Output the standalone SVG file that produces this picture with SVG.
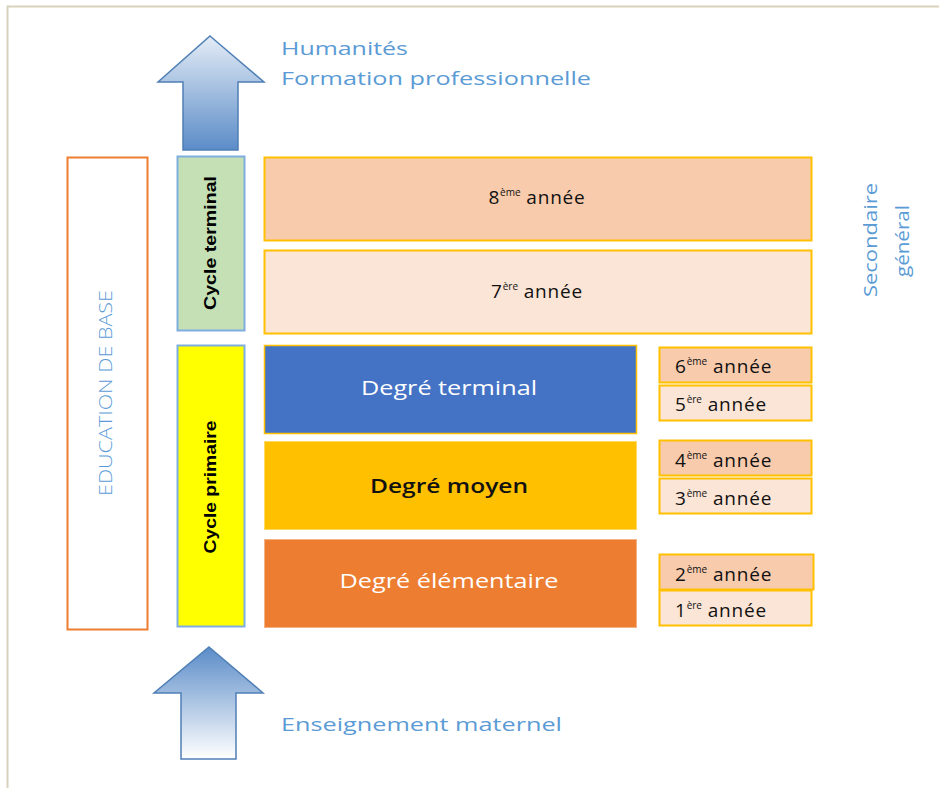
<svg xmlns="http://www.w3.org/2000/svg" width="939" height="788" viewBox="0 0 939 788">
<defs>
<linearGradient id="gUp" x1="0" y1="0" x2="0" y2="1">
<stop offset="0" stop-color="#e4ecf6"/>
<stop offset="1" stop-color="#5b8cc8"/>
</linearGradient>
<linearGradient id="gDown" x1="0" y1="0" x2="0" y2="1">
<stop offset="0" stop-color="#5b8cc8"/>
<stop offset="1" stop-color="#ffffff"/>
</linearGradient>
<style>
.blue{fill:#5b9bd5;font-family:"Open Sans","Noto Sans",sans-serif;font-size:19px}
.lbl{font-family:"Open Sans","Noto Sans",sans-serif;font-size:19px;fill:#111;letter-spacing:0.8px}
.sup{font-size:10px;letter-spacing:0}
.big{font-family:"Open Sans","Noto Sans",sans-serif;font-size:19.5px;text-anchor:middle}
.cyc{font-family:"Liberation Sans Narrow","Liberation Sans",sans-serif;font-size:17px;font-weight:bold;fill:#000;text-anchor:middle}
.yr{stroke:#ffc000;stroke-width:2}
.arrow{stroke:#4f7fb5;stroke-width:1.5}
</style>
</defs>
<rect width="939" height="788" fill="#ffffff"/>
<path d="M7.5 788 V6.5 H939" fill="none" stroke="#d8d2bc" stroke-width="2"/>

<g id="arrow-top">
<polygon class="arrow" fill="url(#gUp)" points="210,36 264,82 238,82 238,150 183,150 183,82 158,82"/>
</g>
<g id="label-top">
<text class="blue" x="281" y="55" textLength="127" lengthAdjust="spacingAndGlyphs">Humanités</text>
<text class="blue" x="281" y="85" textLength="310" lengthAdjust="spacingAndGlyphs">Formation professionnelle</text>
</g>

<g id="education-de-base">
<rect x="67.5" y="157.5" width="80" height="472" fill="#fff" stroke="#ed7d31" stroke-width="2"/>
<text class="blue" transform="translate(112,393) rotate(-90)" text-anchor="middle" font-weight="300" textLength="206" lengthAdjust="spacingAndGlyphs">EDUCATION DE BASE</text>
</g>

<g id="cycle-terminal">
<rect x="177.5" y="156.5" width="67" height="174" fill="#c5e0b4" stroke="#7eaee0" stroke-width="2"/>
<text class="cyc" transform="translate(216,243) rotate(-90)" textLength="134" lengthAdjust="spacingAndGlyphs">Cycle terminal</text>
</g>

<g id="cycle-primaire">
<rect x="177.5" y="345.5" width="67" height="281" fill="#ffff00" stroke="#7eaee0" stroke-width="2"/>
<text class="cyc" transform="translate(216,487) rotate(-90)" textLength="133" lengthAdjust="spacingAndGlyphs">Cycle primaire</text>
</g>

<g id="annee-8">
<rect class="yr" x="264.5" y="157.5" width="547" height="83" fill="#f8cbad"/>
<text class="lbl" x="537" y="204" text-anchor="middle">8<tspan class="sup" dy="-8">ème</tspan><tspan dy="8"> année</tspan></text>
</g>
<g id="annee-7">
<rect class="yr" x="264.5" y="250.5" width="547" height="83" fill="#fbe5d6"/>
<text class="lbl" x="537" y="298" text-anchor="middle">7<tspan class="sup" dy="-8">ère</tspan><tspan dy="8"> année</tspan></text>
</g>

<g id="degre-terminal">
<rect x="264.5" y="345.5" width="372" height="88" fill="#4472c4" stroke="#ffc000" stroke-width="1.5"/>
<text class="big" x="449" y="395" fill="#ffffff" textLength="176" lengthAdjust="spacingAndGlyphs">Degré terminal</text>
</g>
<g id="degre-moyen">
<rect x="264.5" y="441.5" width="372" height="88" fill="#ffc000" stroke="#ffd966" stroke-width="1"/>
<text class="big" x="449" y="493" fill="#111" font-weight="600" textLength="158" lengthAdjust="spacingAndGlyphs">Degré moyen</text>
</g>
<g id="degre-elementaire">
<rect x="264.5" y="539.5" width="372" height="88" fill="#ed7d31" stroke="#f4b183" stroke-width="1"/>
<text class="big" x="449" y="588" fill="#ffffff" textLength="219" lengthAdjust="spacingAndGlyphs">Degré élémentaire</text>
</g>

<g id="annee-6">
<rect class="yr" x="659.5" y="347.5" width="152" height="35" fill="#f8cbad"/>
<text class="lbl" x="675" y="373">6<tspan class="sup" dy="-8">ème</tspan><tspan dy="8"> année</tspan></text>
</g>
<g id="annee-5">
<rect class="yr" x="659.5" y="385.5" width="152" height="35" fill="#fbe5d6"/>
<text class="lbl" x="675" y="411">5<tspan class="sup" dy="-8">ère</tspan><tspan dy="8"> année</tspan></text>
</g>
<g id="annee-4">
<rect class="yr" x="659.5" y="440.5" width="152" height="35" fill="#f8cbad"/>
<text class="lbl" x="675" y="467">4<tspan class="sup" dy="-8">ème</tspan><tspan dy="8"> année</tspan></text>
</g>
<g id="annee-3">
<rect class="yr" x="659.5" y="478.5" width="152" height="35" fill="#fbe5d6"/>
<text class="lbl" x="675" y="505">3<tspan class="sup" dy="-8">ème</tspan><tspan dy="8"> année</tspan></text>
</g>
<g id="annee-2">
<rect class="yr" x="659.5" y="554.5" width="154" height="35" fill="#f8cbad"/>
<text class="lbl" x="675" y="581">2<tspan class="sup" dy="-8">ème</tspan><tspan dy="8"> année</tspan></text>
</g>
<g id="annee-1">
<rect class="yr" x="659.5" y="590.5" width="152" height="35" fill="#fbe5d6"/>
<text class="lbl" x="675" y="617">1<tspan class="sup" dy="-8">ère</tspan><tspan dy="8"> année</tspan></text>
</g>

<g id="secondaire-general">
<text class="blue" transform="translate(877,240) rotate(-90)" text-anchor="middle" textLength="114" lengthAdjust="spacingAndGlyphs">Secondaire</text>
<text class="blue" transform="translate(909,241) rotate(-90)" text-anchor="middle" textLength="72" lengthAdjust="spacingAndGlyphs">général</text>
</g>

<g id="arrow-bottom">
<polygon class="arrow" fill="url(#gDown)" points="209,647 263,693 236,693 236,759 181,759 181,693 154,693"/>
</g>
<g id="label-bottom">
<text class="blue" x="281" y="731" textLength="281" lengthAdjust="spacingAndGlyphs">Enseignement maternel</text>
</g>
<g id="connectors"/>
</svg>
